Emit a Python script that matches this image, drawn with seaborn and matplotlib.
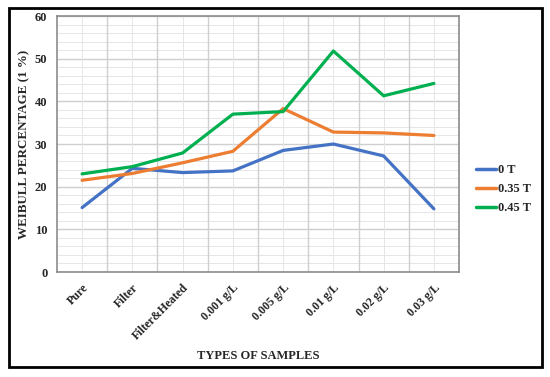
import pandas as pd
import numpy as np
import matplotlib
matplotlib.use("Agg")
import matplotlib.pyplot as plt
from matplotlib.ticker import MultipleLocator
from matplotlib.patches import Rectangle
import seaborn as sns

samples = ["Pure", "Filter", "Filter&Heated", "0.001 g/L", "0.005 g/L",
           "0.01 g/L", "0.02 g/L", "0.03 g/L"]
field_labels = ["0 T", "0.35 T", "0.45 T"]
weibull_0T = [15.1, 24.3, 23.3, 23.7, 28.5, 30.0, 27.2, 14.8]
weibull_035T = [21.5, 23.1, 25.6, 28.3, 38.3, 32.8, 32.6, 32.0]
weibull_045T = [23.0, 24.7, 27.9, 37.0, 37.6, 51.8, 41.3, 44.2]

df = pd.DataFrame({
    "sample": samples * 3,
    "value": weibull_0T + weibull_035T + weibull_045T,
    "field": [f for f in field_labels for _ in samples],
})

sns.set_style("white")
plt.rcParams['font.family'] = ['Liberation Serif', 'DejaVu Serif']
plt.rcParams['font.weight'] = 'bold'

fig = plt.figure(figsize=(5.5, 3.77), dpi=100)
ax = fig.add_axes([0.1036, 0.2785, 0.731, 0.679])

palette = {"0 T": "#4472C4", "0.35 T": "#ED7D31", "0.45 T": "#00B050"}
sns.lineplot(data=df, x="sample", y="value", hue="field", palette=palette,
             linewidth=2.3, sort=False, ax=ax)

ax.set_xlim(-0.5, len(samples) - 0.5)
ax.set_ylim(0, 60)
ax.yaxis.set_major_locator(MultipleLocator(10))
ax.set_xticks(np.arange(len(samples)))
ax.set_xticklabels(samples, rotation=45, ha="right", rotation_mode="anchor",
                   fontsize=8.5, fontweight="bold")
ax.tick_params(axis="y", labelsize=9, length=0, pad=7)
ax.tick_params(axis="x", length=0, pad=7)
for lbl in ax.get_yticklabels():
    lbl.set_fontweight("bold")

# grid: horizontal major/minor, vertical at category boundaries and centres
ax.grid(False)
for y in np.arange(0, 61, 2):
    major = y % 10 == 0
    ax.axhline(y, color="#cfcfcf" if major else "#e6e6e6",
               lw=1.0 if major else 0.7, zorder=0)
for x in np.arange(len(samples)):
    ax.axvline(x, color="#e6e6e6", lw=0.7, zorder=0)
    ax.axvline(x + 0.5, color="#cfcfcf", lw=1.0, zorder=0)

for s in ax.spines.values():
    s.set_color("#8c8c8c")
    s.set_linewidth(1.2)

ax.set_ylabel("WEIBULL PERCENTAGE (1 %)", fontsize=9.4, fontweight="bold")
ax.yaxis.set_label_coords(-0.067, 0.5)
ax.set_xlabel("TYPES OF SAMPLES", fontsize=9, fontweight="bold")
ax.xaxis.set_label_coords(0.5, -0.305)

leg = ax.legend(loc="center left", bbox_to_anchor=(1.013, 0.324), frameon=False,
                handlelength=1.6, handletextpad=0.2, labelspacing=0.55,
                prop={"weight": "bold", "size": 9})
for line in leg.get_lines():
    line.set_linewidth(2.5)

fig.patches.append(Rectangle((0.017, 0.027), 0.968, 0.952, transform=fig.transFigure,
                             fill=False, edgecolor="black", lw=2))

fig.savefig("out.png", dpi=100)
